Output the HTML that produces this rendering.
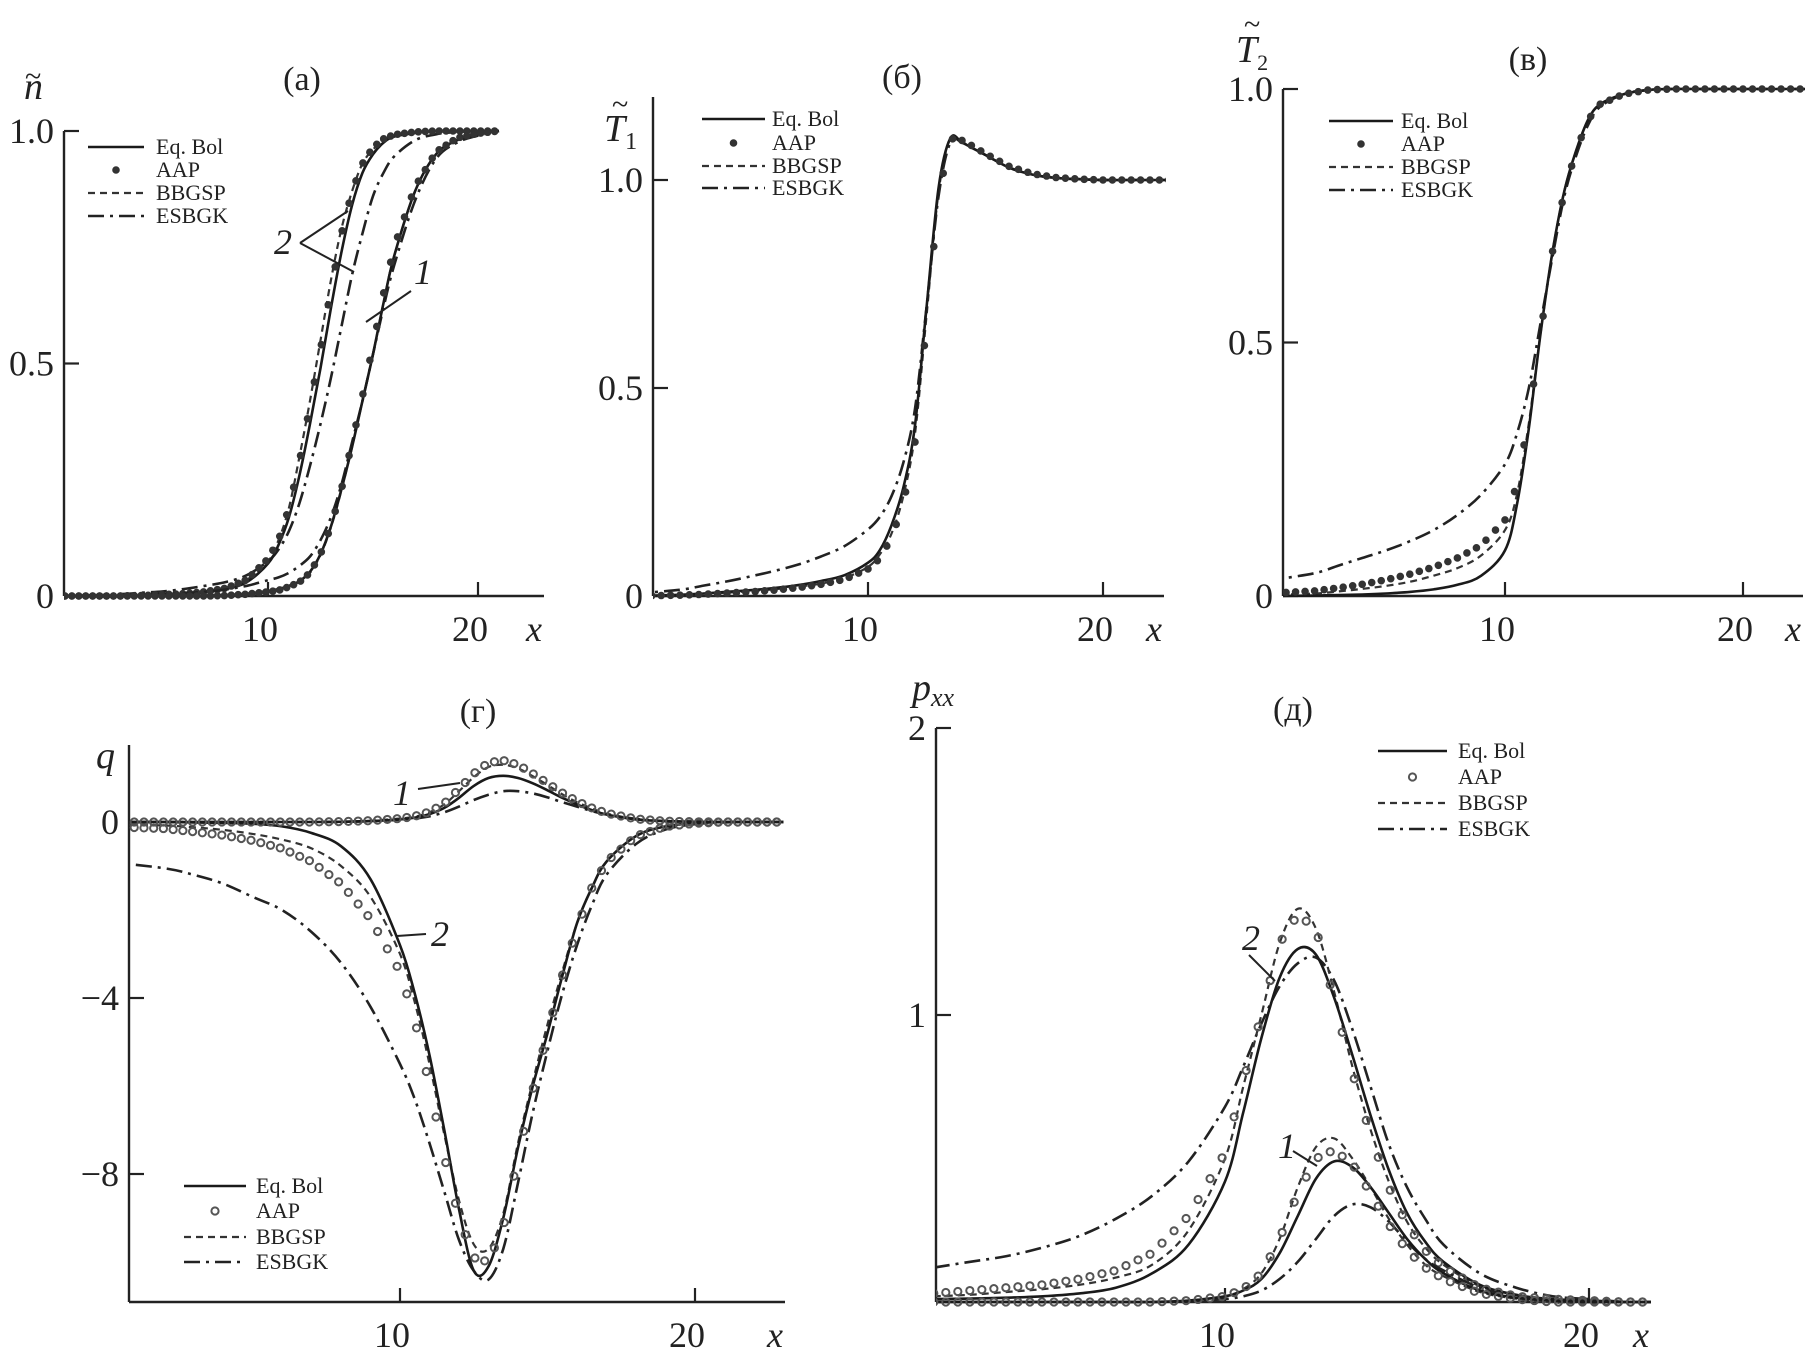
<!DOCTYPE html>
<html><head><meta charset="utf-8">
<style>
html,body{margin:0;padding:0;background:#fff;}
svg{display:block;font-family:"Liberation Serif",serif;}
</style></head>
<body>
<svg id="fig" width="1820" height="1355" viewBox="0 0 1820 1355" xmlns="http://www.w3.org/2000/svg"></svg>
<script>
// ---------- DATA ----------
// panel (a) n
const xA = [0,2,3,4,5,6,7,8,9,10,10.5,11,11.5,12,12.5,13,13.5,14,14.5,15,15.5,16,17,18,19,20,21];
const nEq2   = [0,0,0,0.001,0.002,0.004,0.008,0.015,0.03,0.07,0.11,0.17,0.26,0.37,0.49,0.62,0.74,0.84,0.91,0.95,0.975,0.988,0.996,1,1,1,1];
const nAap2  = [0,0,0,0.001,0.003,0.005,0.009,0.017,0.035,0.08,0.12,0.19,0.29,0.41,0.53,0.66,0.78,0.87,0.93,0.965,0.983,0.992,0.998,1,1,1,1];
const nBbg2  = [0,0,0.001,0.002,0.003,0.005,0.01,0.018,0.035,0.075,0.12,0.19,0.3,0.42,0.55,0.68,0.79,0.87,0.93,0.96,0.98,0.99,0.997,1,1,1,1];
const nEsb2  = [0,0.002,0.004,0.007,0.01,0.015,0.022,0.03,0.045,0.075,0.1,0.14,0.2,0.28,0.37,0.47,0.58,0.69,0.78,0.86,0.91,0.945,0.98,0.993,0.998,1,1];
const nEq1   = [0,0,0,0,0,0,0.001,0.002,0.005,0.011,0.015,0.022,0.032,0.052,0.09,0.15,0.23,0.32,0.42,0.52,0.63,0.73,0.87,0.95,0.98,0.995,1];
const nAap1  = [0,0,0,0,0,0,0,0.001,0.004,0.009,0.012,0.02,0.03,0.05,0.09,0.15,0.23,0.33,0.43,0.54,0.65,0.75,0.88,0.955,0.985,0.995,1];
const nBbg1  = [0,0,0,0,0,0,0.001,0.002,0.005,0.011,0.014,0.021,0.031,0.05,0.088,0.148,0.228,0.32,0.42,0.52,0.63,0.73,0.87,0.95,0.98,0.995,1];
const nEsb1  = [0,0.001,0.001,0.002,0.004,0.006,0.009,0.014,0.022,0.034,0.04,0.05,0.065,0.085,0.12,0.17,0.24,0.33,0.42,0.52,0.62,0.71,0.85,0.94,0.975,0.99,1];
// panel (b) T1
const xB = [0,2,3,4,5,6,7,8,9,10,10.5,11,11.5,12,12.5,13,13.5,14,14.5,15,16,17,18,19,20,21,22,23];
const t1Eq  = [0,0.003,0.006,0.01,0.014,0.019,0.026,0.036,0.05,0.08,0.11,0.17,0.26,0.41,0.7,0.98,1.1,1.09,1.075,1.06,1.03,1.013,1.005,1.002,1,1,1,1];
const t1Aap = [0,0.002,0.004,0.007,0.01,0.014,0.02,0.028,0.04,0.065,0.09,0.14,0.22,0.37,0.66,0.96,1.1,1.095,1.08,1.063,1.033,1.015,1.006,1.002,1,1,1,1];
const t1Bbg = [0,0.002,0.005,0.008,0.012,0.016,0.022,0.03,0.043,0.07,0.1,0.15,0.24,0.39,0.68,0.97,1.1,1.09,1.075,1.06,1.03,1.013,1.005,1.002,1,1,1,1];
const t1Esb = [0.005,0.015,0.025,0.035,0.047,0.06,0.075,0.095,0.12,0.16,0.19,0.24,0.32,0.45,0.7,0.96,1.09,1.09,1.075,1.06,1.03,1.013,1.005,1.002,1,1,1,1];
// panel (c) T2
const xC = [0,2,3,4,5,6,7,8,9,10,10.5,11,11.5,12,12.5,13,13.5,14,15,16,17,18,19,20,21,22,23];
const t2Eq  = [0,0.001,0.002,0.003,0.005,0.008,0.013,0.022,0.04,0.09,0.18,0.33,0.52,0.68,0.8,0.88,0.94,0.97,0.99,0.998,1,1,1,1,1,1,1];
const t2Aap = [0.005,0.01,0.016,0.023,0.032,0.043,0.057,0.075,0.1,0.15,0.22,0.35,0.52,0.68,0.8,0.88,0.94,0.97,0.99,0.998,1,1,1,1,1,1,1];
const t2Bbg = [0.002,0.005,0.009,0.014,0.02,0.028,0.04,0.055,0.08,0.13,0.2,0.34,0.52,0.68,0.8,0.88,0.94,0.97,0.99,0.998,1,1,1,1,1,1,1];
const t2Esb = [0.03,0.045,0.06,0.075,0.09,0.108,0.13,0.16,0.2,0.26,0.32,0.41,0.54,0.67,0.79,0.87,0.93,0.965,0.99,0.998,1,1,1,1,1,1,1];
// panel (d) q
const xD = [0,2,3,4,5,6,7,8,9,10,10.5,11,11.5,12,12.5,13,13.5,14,14.5,15,15.5,16,16.5,17,18,19,20,21,22,23];
const qEq2  = [0,0,-0.01,-0.02,-0.04,-0.1,-0.25,-0.55,-1.3,-2.8,-3.9,-5.3,-7.0,-8.8,-10.2,-10.1,-9.0,-7.4,-6.0,-4.8,-3.5,-2.3,-1.5,-0.9,-0.32,-0.1,-0.03,0,0,0];
const qAap2 = [-0.1,-0.15,-0.22,-0.3,-0.42,-0.6,-0.9,-1.4,-2.2,-3.4,-4.5,-6.0,-7.6,-9.0,-9.9,-10.0,-9.2,-7.6,-6.1,-4.8,-3.5,-2.4,-1.5,-0.9,-0.32,-0.1,-0.03,0,0,0];
const qBbg2 = [-0.05,-0.08,-0.12,-0.18,-0.27,-0.4,-0.6,-1.0,-1.7,-3.0,-4.1,-5.5,-7.1,-8.6,-9.6,-9.7,-8.9,-7.3,-5.9,-4.6,-3.4,-2.3,-1.5,-0.9,-0.32,-0.1,-0.03,0,0,0];
const qEsb2 = [-0.9,-1.05,-1.2,-1.4,-1.7,-2.0,-2.5,-3.2,-4.2,-5.5,-6.3,-7.3,-8.4,-9.5,-10.2,-10.4,-9.7,-8.2,-6.6,-5.2,-3.9,-2.8,-1.9,-1.2,-0.5,-0.17,-0.05,-0.01,0,0];
const qEq1  = [0,0,0,0,0,0,0,0.005,0.02,0.06,0.1,0.18,0.32,0.55,0.82,1.0,1.05,1.0,0.88,0.72,0.55,0.4,0.27,0.17,0.06,0.02,0.005,0,0,0];
const qAap1 = [0,0,0,0,0,0,0,0.01,0.03,0.08,0.13,0.23,0.42,0.75,1.1,1.35,1.4,1.3,1.1,0.88,0.66,0.47,0.32,0.2,0.07,0.02,0.005,0,0,0];
const qBbg1 = [0,0,0,0,0,0,0,0.01,0.03,0.08,0.12,0.22,0.4,0.7,1.02,1.25,1.3,1.22,1.04,0.84,0.63,0.45,0.31,0.19,0.07,0.02,0.005,0,0,0];
const qEsb1 = [0,0,0,0,0,0,0,0.005,0.02,0.05,0.08,0.13,0.22,0.35,0.5,0.62,0.7,0.7,0.65,0.56,0.45,0.35,0.25,0.17,0.07,0.02,0.005,0,0,0];
// panel (e) pxx
const xE = [2,3,4,5,6,7,8,9,10,10.5,11,11.5,12,12.5,13,13.5,14,14.5,15,15.5,16,17,18,19,20,21,21.7];
const pEq2  = [0.01,0.012,0.015,0.02,0.03,0.05,0.1,0.2,0.42,0.66,0.92,1.13,1.23,1.21,1.06,0.86,0.65,0.46,0.31,0.21,0.14,0.06,0.025,0.01,0.005,0,0];
const pAap2 = [0.03,0.04,0.05,0.06,0.08,0.11,0.17,0.3,0.52,0.77,1.0,1.25,1.35,1.3,1.05,0.8,0.58,0.4,0.27,0.18,0.12,0.05,0.02,0.01,0.005,0,0];
const pBbg2 = [0.02,0.025,0.035,0.045,0.06,0.085,0.13,0.25,0.5,0.75,1.0,1.25,1.37,1.3,1.08,0.82,0.6,0.42,0.28,0.19,0.13,0.055,0.022,0.01,0.005,0,0];
const pEsb2 = [0.12,0.14,0.16,0.19,0.23,0.29,0.37,0.49,0.68,0.82,0.97,1.1,1.18,1.2,1.12,0.95,0.75,0.55,0.4,0.29,0.2,0.1,0.05,0.02,0.01,0,0];
const pEq1  = [0,0,0,0,0,0,0,0.005,0.02,0.04,0.08,0.17,0.3,0.43,0.49,0.47,0.4,0.31,0.22,0.15,0.1,0.04,0.015,0.005,0,0,0];
const pAap1 = [0,0,0,0,0,0,0,0.005,0.02,0.045,0.1,0.22,0.38,0.5,0.53,0.48,0.38,0.27,0.18,0.12,0.08,0.03,0.01,0,0,0,0];
const pBbg1 = [0,0,0,0,0,0,0,0.005,0.02,0.045,0.1,0.22,0.4,0.54,0.57,0.5,0.4,0.29,0.2,0.13,0.09,0.035,0.012,0,0,0,0];
const pEsb1 = [0,0,0,0,0,0,0,0.003,0.01,0.02,0.04,0.08,0.14,0.22,0.3,0.34,0.33,0.28,0.21,0.15,0.11,0.05,0.02,0.005,0,0,0];

// ticks
const xTicks = [10,20];
const yTicksA = [0,0.5,1.0], yTickLabA = ["0","0.5","1.0"];
const yTicksB = [0,0.5,1.0], yTickLabB = ["0","0.5","1.0"];
const yTicksC = [0,0.5,1.0], yTickLabC = ["0","0.5","1.0"];
const yTicksD = [0,-4,-8], yTickLabD = ["0","\u22124","\u22128"];
const yTicksE = [1,2], yTickLabE = ["1","2"];
const legendLabels = ["Eq. Bol","AAP","BBGSP","ESBGK"];

// ---------- DRAWING ----------
const NS="http://www.w3.org/2000/svg";
const svg=document.getElementById('fig');
function mk(tag,attrs,parent){const e=document.createElementNS(NS,tag);for(const k in attrs)e.setAttribute(k,attrs[k]);(parent||svg).appendChild(e);return e;}

function spline(pts){
  let d="M"+pts[0][0].toFixed(1)+","+pts[0][1].toFixed(1);
  for(let i=0;i<pts.length-1;i++){
    const p0=pts[Math.max(0,i-1)],p1=pts[i],p2=pts[i+1],p3=pts[Math.min(pts.length-1,i+2)];
    const c1=[p1[0]+(p2[0]-p0[0])/6,p1[1]+(p2[1]-p0[1])/6];
    const c2=[p2[0]-(p3[0]-p1[0])/6,p2[1]-(p3[1]-p1[1])/6];
    d+=" C"+c1[0].toFixed(1)+","+c1[1].toFixed(1)+" "+c2[0].toFixed(1)+","+c2[1].toFixed(1)+" "+p2[0].toFixed(1)+","+p2[1].toFixed(1);
  }
  return d;
}
function interp(xs,ys,x){
  if(x<=xs[0])return ys[0];
  for(let i=0;i<xs.length-1;i++){if(x<=xs[i+1]){const t=(x-xs[i])/(xs[i+1]-xs[i]);return ys[i]+t*(ys[i+1]-ys[i]);}}
  return ys[ys.length-1];
}
const STY={
  eq:{stroke:"#1a1a1a","stroke-width":2.6,fill:"none"},
  bbg:{stroke:"#333","stroke-width":2.2,fill:"none","stroke-dasharray":"7,5"},
  esb:{stroke:"#222","stroke-width":2.6,fill:"none","stroke-dasharray":"16,6,3,6"}
};
let clipId=0;
function panel(cfg){
  const g=mk('g',{});
  
  
  const X=v=>cfg.x10+(v-10)*cfg.ux;
  const Y=v=>cfg.y0-v*cfg.uy;
  const id="clip"+(clipId++);
  const cp=mk('clipPath',{id:id},g);
  mk('rect',{x:cfg.ax0,y:0,width:cfg.ax1-cfg.ax0+2,height:1355},cp);
  const ya=mk('line',{x1:cfg.ax0,y1:cfg.top,x2:cfg.ax0,y2:cfg.bottom,stroke:"#222","stroke-width":2.4},g);
  
  
  const xa=mk('line',{x1:cfg.ax0,y1:cfg.bottom,x2:cfg.ax1,y2:cfg.bottom,stroke:"#222","stroke-width":2.4},g);
  
  
  cfg.yt.forEach((v,i)=>{
    mk('line',{x1:cfg.ax0,y1:Y(v),x2:cfg.ax0+15,y2:Y(v),stroke:"#222","stroke-width":2.2},g);
    const t=mk('text',{x:cfg.ax0-10,y:Y(v)+12,"text-anchor":"end","font-size":36,fill:"#222"},g);
    t.textContent=cfg.ytl[i];
    
    
  });
  xTicks.forEach(v=>{
    mk('line',{x1:X(v),y1:cfg.bottom,x2:X(v),y2:cfg.bottom-14,stroke:"#222","stroke-width":2.2},g);
    const t=mk('text',{x:X(v)-8,y:cfg.bottom+45,"text-anchor":"middle","font-size":36,fill:"#222"},g);
    t.textContent=String(v);
    
    
  });
  const xl=mk('text',{x:cfg.ax1-18,y:cfg.bottom+45,"font-size":36,"font-style":"italic",fill:"#222"},g);
  xl.textContent="x";
  
  
  const sg=mk('g',{"clip-path":"url(#"+id+")"},g);
  cfg.series.forEach(s=>{
    const xs=cfg.xs;
    if(s.kind==="aap"){
      const mg=mk('g',{},sg);
      
      
      for(let xv=xs[0];xv<=xs[xs.length-1]+1e-6;xv+=cfg.mstep){
        const yv=interp(xs,s.y,xv);
        const c=mk('circle',{cx:X(xv),cy:Y(yv),r:cfg.ring?3.6:3.3,fill:cfg.ring?"none":"#333",stroke:cfg.ring?"#555":"#333","stroke-width":cfg.ring?2:1},mg);
        
        
      }
    } else {
      const pts=xs.map((xv,i)=>[X(xv),Y(s.y[i])]);
      const p=mk('path',Object.assign({d:spline(pts)},STY[s.kind]),sg);
      
      
    }
  });
  const lg=mk('g',{},g);
  
  
  const L=cfg.leg;
  ["eq","aap","bbg","esb"].forEach((k,i)=>{
    const y=L.ys[i];
    if(k==="aap"){mk('circle',{cx:(L.x1+L.x2)/2,cy:y,r:cfg.ring?3.6:3.3,fill:cfg.ring?"none":"#333",stroke:cfg.ring?"#555":"#333","stroke-width":cfg.ring?2:1},lg);}
    else mk('line',Object.assign({x1:L.x1,y1:y,x2:L.x2,y2:y},STY[k]),lg);
    const t=mk('text',{x:L.tx,y:y+7,"font-size":L.fs,fill:"#222"},lg);
    t.textContent=legendLabels[i];
    
    
  });
  const tt=mk('text',{x:cfg.tx,y:cfg.ty,"text-anchor":"middle","font-size":34,fill:"#222"},g);
  tt.textContent=cfg.title;
  
  
  return {g,X,Y};
}
function ylab(html,x,y,name){
  const t=mk('text',{x:x,y:y,"font-size":38,"font-style":"italic",fill:"#222"});
  t.innerHTML=html;
  
  
}
function tilde(x,y){
  const t=mk('text',{x:x,y:y,"font-size":30,fill:"#222"});
  t.textContent="~";
  
  
}
function note(txt,tx,ty,lines){
  const g=mk('g',{});
  
  
  const t=mk('text',{x:tx,y:ty,"font-size":36,"font-style":"italic",fill:"#222","text-anchor":"middle"},g);
  t.textContent=txt;
  lines.forEach(l=>mk('line',{x1:l[0],y1:l[1],x2:l[2],y2:l[3],stroke:"#222","stroke-width":2},g));
}

// (a)
panel({name:"panel-a-density",xs:xA,x10:268,ux:21,y0:596,uy:465,ax0:64,ax1:544,top:131,bottom:596,
  yt:yTicksA,ytl:yTickLabA,mstep:0.33,ring:false,title:"(a)",tx:302,ty:90,
  leg:{x1:88,x2:144,tx:156,ys:[147,170,193,216],fs:22},
  series:[{kind:"esb",y:nEsb2},{kind:"bbg",y:nBbg2},{kind:"eq",y:nEq2},{kind:"aap",y:nAap2},
          {kind:"esb",y:nEsb1},{kind:"bbg",y:nBbg1},{kind:"eq",y:nEq1},{kind:"aap",y:nAap1}]});
ylab("n",24,99,"y-axis-title-n");
tilde(25,86);
note("2",283,254,[[300,243,348,211],[300,243,354,272]]);
note("1",423,284,[[411,291,366,322]]);

// (b)
panel({name:"panel-b-t1",xs:xB,x10:868,ux:23.5,y0:596,uy:416,ax0:653,ax1:1164,top:97,bottom:596,
  yt:yTicksB,ytl:yTickLabB,mstep:0.4,ring:false,title:"(б)",tx:902,ty:88,
  leg:{x1:702,x2:765,tx:772,ys:[119,143,166,188],fs:22},
  series:[{kind:"esb",y:t1Esb},{kind:"bbg",y:t1Bbg},{kind:"eq",y:t1Eq},{kind:"aap",y:t1Aap}]});
ylab('T<tspan font-size="24" font-style="normal" dy="8">1</tspan>',604,141,"y-axis-title-t1");
tilde(612,114);

// (c)
panel({name:"panel-c-t2",xs:xC,x10:1505,ux:23.8,y0:596,uy:507,ax0:1283,ax1:1803,top:89,bottom:596,
  yt:yTicksC,ytl:yTickLabC,mstep:0.4,ring:false,title:"(в)",tx:1528,ty:70,
  leg:{x1:1329,x2:1393,tx:1401,ys:[121,144,167,190],fs:22},
  series:[{kind:"esb",y:t2Esb},{kind:"bbg",y:t2Bbg},{kind:"eq",y:t2Eq},{kind:"aap",y:t2Aap}]});
ylab('T<tspan font-size="22" font-style="normal" dy="8">2</tspan>',1236,62,"y-axis-title-t2");
tilde(1244,34);

// (d)
panel({name:"panel-d-heat-flux",xs:xD,x10:400,ux:29.5,y0:822,uy:44,ax0:129,ax1:785,top:745,bottom:1302,
  yt:yTicksD,ytl:yTickLabD,mstep:0.33,ring:true,title:"(г)",tx:478,ty:722,
  leg:{x1:184,x2:246,tx:256,ys:[1186,1211,1237,1262],fs:22},
  series:[{kind:"esb",y:qEsb2},{kind:"bbg",y:qBbg2},{kind:"eq",y:qEq2},{kind:"aap",y:qAap2},
          {kind:"esb",y:qEsb1},{kind:"bbg",y:qBbg1},{kind:"eq",y:qEq1},{kind:"aap",y:qAap1}]});
ylab("q",96,768,"y-axis-title-q");
note("1",402,805,[[418,789,460,783]]);
note("2",440,946,[[426,934,397,936]]);

// (e)
panel({name:"panel-e-pxx",xs:xE,x10:1225,ux:36.4,y0:1302,uy:287,ax0:936,ax1:1651,top:728,bottom:1302,
  yt:yTicksE,ytl:yTickLabE,mstep:0.33,ring:true,title:"(д)",tx:1293,ty:720,
  leg:{x1:1378,x2:1447,tx:1458,ys:[751,777,803,829],fs:22},
  series:[{kind:"esb",y:pEsb2},{kind:"bbg",y:pBbg2},{kind:"eq",y:pEq2},{kind:"aap",y:pAap2},
          {kind:"esb",y:pEsb1},{kind:"bbg",y:pBbg1},{kind:"eq",y:pEq1},{kind:"aap",y:pAap1}]});
ylab('p<tspan font-size="26" dy="6">xx</tspan>',912,700,"y-axis-title-pxx");
note("2",1251,950,[[1249,955,1275,981]]);
note("1",1287,1158,[[1293,1151,1317,1166]]);
</script>
</body></html>
